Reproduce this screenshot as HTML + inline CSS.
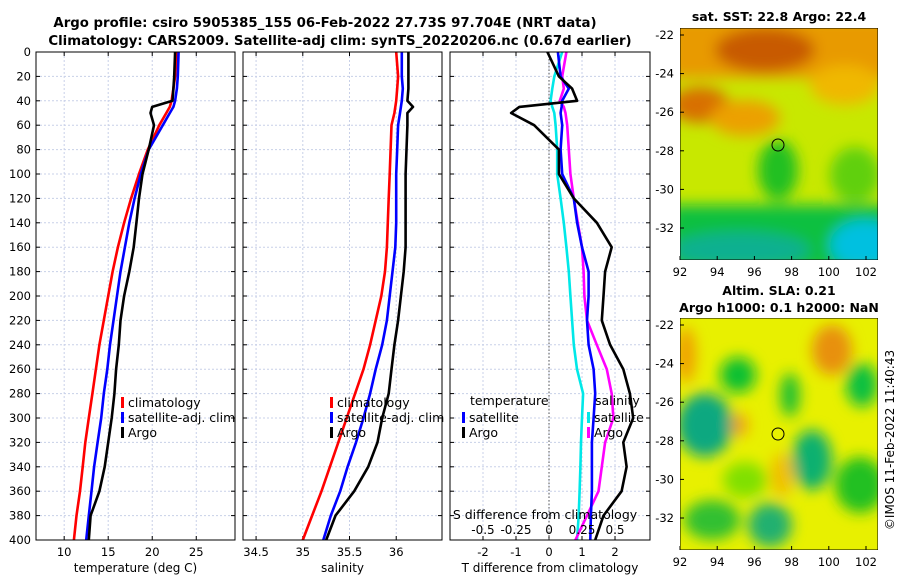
<!DOCTYPE html>
<html><head><meta charset="utf-8">
<style>
body{margin:0;background:#fff;width:900px;height:580px;overflow:hidden;font-family:"DejaVu Sans","Liberation Sans",sans-serif}
svg text{font-family:"DejaVu Sans","Liberation Sans",sans-serif}
</style></head><body>
<svg id="fig" width="900" height="580" xmlns="http://www.w3.org/2000/svg">
<defs>
<filter id="bl" x="-50%" y="-50%" width="200%" height="200%"><feGaussianBlur stdDeviation="7"/></filter>
<clipPath id="c1"><rect x="680" y="28" width="198" height="232"/></clipPath>
<clipPath id="c2"><rect x="680" y="318" width="198" height="232"/></clipPath>
</defs>
<text x="325" y="27" font-size="13.3" font-weight="bold" text-anchor="middle">Argo profile: csiro 5905385_155 06-Feb-2022 27.73S 97.704E (NRT data)</text>
<text x="340" y="45" font-size="13.3" font-weight="bold" text-anchor="middle">Climatology: CARS2009. Satellite-adj clim: synTS_20220206.nc (0.67d earlier)</text>
<g id="maps">
<g clip-path="url(#c1)">
<rect x="680" y="28" width="198" height="232" fill="#c8e800"/>
<g filter="url(#bl)">
<rect x="670" y="18" width="220" height="60" fill="#e89a00"/>
<ellipse cx="765" cy="50" rx="50" ry="22" fill="#c85a00"/>
<ellipse cx="700" cy="105" rx="30" ry="18" fill="#d87000"/>
<ellipse cx="745" cy="118" rx="35" ry="18" fill="#eca000"/>
<ellipse cx="845" cy="85" rx="35" ry="20" fill="#f0b800"/>
<ellipse cx="778" cy="170" rx="20" ry="30" fill="#20c020"/>
<ellipse cx="855" cy="175" rx="25" ry="28" fill="#60d010"/>
<rect x="670" y="205" width="220" height="65" fill="#10c040"/>
<ellipse cx="740" cy="250" rx="70" ry="18" fill="#10b090"/>
<ellipse cx="865" cy="245" rx="35" ry="25" fill="#00c0e0"/>
</g>
<rect x="680" y="28" width="198" height="232" fill="none" stroke="#000"/>
<circle cx="778" cy="145" r="6" fill="none" stroke="#000"/>
</g>
<g clip-path="url(#c2)">
<rect x="680" y="318" width="198" height="232" fill="#e8f000"/>
<g filter="url(#bl)">
<ellipse cx="832" cy="350" rx="20" ry="25" fill="#e89010"/>
<ellipse cx="686" cy="355" rx="10" ry="28" fill="#f0a000"/>
<ellipse cx="738" cy="375" rx="18" ry="18" fill="#10c030"/>
<ellipse cx="790" cy="395" rx="10" ry="22" fill="#20c030"/>
<ellipse cx="705" cy="425" rx="28" ry="32" fill="#10a880"/>
<ellipse cx="812" cy="460" rx="20" ry="30" fill="#10b070"/>
<ellipse cx="862" cy="385" rx="16" ry="22" fill="#10c040"/>
<ellipse cx="860" cy="485" rx="25" ry="28" fill="#20c020"/>
<ellipse cx="770" cy="525" rx="22" ry="22" fill="#20b070"/>
<ellipse cx="712" cy="520" rx="28" ry="20" fill="#30c030"/>
<ellipse cx="745" cy="480" rx="22" ry="18" fill="#80e000"/>
<ellipse cx="782" cy="475" rx="12" ry="22" fill="#f0c000"/>
<ellipse cx="740" cy="425" rx="8" ry="12" fill="#f0a010"/>
</g>
<rect x="680" y="318" width="198" height="232" fill="none" stroke="#000"/>
<circle cx="778" cy="434" r="6" fill="none" stroke="#000"/>
</g>
<text x="779" y="21" font-size="12.5" font-weight="bold" text-anchor="middle">sat. SST: 22.8 Argo: 22.4</text>
<text x="779" y="295" font-size="12.5" font-weight="bold" text-anchor="middle">Altim. SLA: 0.21</text>
<text x="779" y="312" font-size="12.5" font-weight="bold" text-anchor="middle">Argo h1000: 0.1 h2000: NaN</text>
<text transform="translate(894,440) rotate(-90)" font-size="12" text-anchor="middle">©IMOS 11-Feb-2022 11:40:43</text>
</g>
<g id="plots"></g>
</svg>
<script>
const depths=[0,20,30,40,45,50,60,80,100,120,140,160,180,200,220,240,260,280,300,320,340,360,380,400];
const tClim=[22.8,22.6,22.4,22.2,22.0,21.6,20.8,19.5,18.5,17.6,16.8,16.1,15.5,15.0,14.5,14.0,13.6,13.2,12.8,12.4,12.1,11.8,11.4,11.1];
const tSat=[23.0,22.9,22.8,22.6,22.4,22.0,21.2,19.6,18.7,18.0,17.4,16.9,16.4,16.0,15.6,15.2,14.9,14.5,14.2,13.8,13.4,13.1,12.8,12.5];
const tArgo=[22.6,22.5,22.4,22.3,20.0,19.8,20.2,19.6,18.9,18.5,18.2,17.9,17.4,16.8,16.4,16.2,15.9,15.7,15.4,15.0,14.6,14.0,13.0,12.8];
const sClim=[36.0,36.02,36.01,36.0,35.99,35.98,35.95,35.94,35.93,35.92,35.91,35.9,35.88,35.84,35.78,35.72,35.65,35.56,35.47,35.38,35.29,35.2,35.1,35.0];
const sSat=[36.06,36.06,36.07,36.06,36.05,36.04,36.02,36.01,36.0,36.0,36.0,35.99,35.96,35.93,35.9,35.85,35.78,35.72,35.65,35.57,35.48,35.4,35.3,35.22];
const sArgo=[36.13,36.13,36.13,36.12,36.18,36.12,36.12,36.11,36.1,36.1,36.1,36.1,36.08,36.05,36.02,35.98,35.95,35.92,35.85,35.8,35.7,35.55,35.35,35.25];
const dTSat=[0.27,0.35,0.6,0.4,0.38,0.35,0.4,0.35,0.4,0.75,0.85,1.0,1.2,1.2,1.15,1.2,1.35,1.4,1.35,1.3,1.3,1.3,1.27,1.25];
const dTArgo=[-0.05,0.3,0.7,0.85,-0.9,-1.15,-0.45,0.3,0.3,0.75,1.45,1.9,1.7,1.65,1.6,1.85,2.25,2.45,2.55,2.25,2.35,2.2,1.65,1.4];
const dSSat=[0.1,0.04,0.025,0.012,0.025,0.04,0.05,0.062,0.062,0.088,0.112,0.132,0.15,0.162,0.175,0.188,0.212,0.258,0.25,0.242,0.238,0.232,0.225,0.212];
const dSArgo=[0.132,0.1,0.112,0.082,0.112,0.125,0.138,0.15,0.162,0.188,0.218,0.25,0.262,0.268,0.288,0.362,0.438,0.475,0.488,0.425,0.4,0.375,0.288,0.2];
const depthTicks=[0,20,40,60,80,100,120,140,160,180,200,220,240,260,280,300,320,340,360,380,400];
const tTicks=[10,15,20,25];
const sTicks=[34.5,35,35.5,36];
const dtTicks=[-2,-1,0,1,2];
const dsTicks=[-0.5,-0.25,0,0.25,0.5];
const dsTickLabels=["-0.5","-0.25","0","0.25","0.5"];

const NS="http://www.w3.org/2000/svg";
const root=document.getElementById('plots');
function mk(tag,attrs,parent){const e=document.createElementNS(NS,tag);for(const k in attrs)e.setAttribute(k,attrs[k]);(parent||root).appendChild(e);return e;}
const Y0=52,Y1=540;
const yS=d=>Y0+(d/400)*(Y1-Y0);
const panels=[
 {x0:36,x1:235,min:6.8,max:29.4,ticks:tTicks,name:'temperature-panel',title:'temperature (deg C)'},
 {x0:243,x1:442,min:34.36,max:36.49,ticks:sTicks,name:'salinity-panel',title:'salinity'},
 {x0:450,x1:650,min:-3,max:3.06,ticks:dtTicks,name:'difference-panel',title:'T difference from climatology'}
];
panels.forEach((p,i)=>{
 p.xS=v=>p.x0+(v-p.min)/(p.max-p.min)*(p.x1-p.x0);
 const g=mk('g',{});
 
 
 p.g=g;
 depthTicks.forEach(d=>{
  mk('line',{x1:p.x0,x2:p.x1,y1:yS(d),y2:yS(d),stroke:'#c8d0e8','stroke-dasharray':'2,2','stroke-width':1},g);
  mk('line',{x1:p.x0,x2:p.x0+4,y1:yS(d),y2:yS(d),stroke:'#000'},g);
  mk('line',{x1:p.x1,x2:p.x1-4,y1:yS(d),y2:yS(d),stroke:'#000'},g);
  if(i===0){const t=mk('text',{x:p.x0-5,y:yS(d)+4,'font-size':11.5,'text-anchor':'end'},g);t.textContent=d;
   }
 });
 p.ticks.forEach(v=>{
  const x=p.xS(v);
  mk('line',{x1:x,x2:x,y1:Y0,y2:Y1,stroke:'#c8d0e8','stroke-dasharray':'2,2'},g);
  mk('line',{x1:x,x2:x,y1:Y1,y2:Y1-4,stroke:'#000'},g);
  mk('line',{x1:x,x2:x,y1:Y0,y2:Y0+4,stroke:'#000'},g);
  const t=mk('text',{x:x,y:556,'font-size':11.5,'text-anchor':'middle'},g);t.textContent=v;
  
 });
 const at=mk('text',{x:(p.x0+p.x1)/2,y:572,'font-size':12,'text-anchor':'middle'},g);at.textContent=p.title;
 
});
const P3=panels[2];
mk('line',{x1:P3.xS(0),x2:P3.xS(0),y1:Y0,y2:Y1,stroke:'#555','stroke-dasharray':'1.5,2'},P3.g);
function line(p,vals,color,name,scale){
 const pts=vals.map((v,j)=>p.xS(v*(scale||1)).toFixed(1)+','+yS(depths[j]).toFixed(1)).join(' ');
 const e=mk('polyline',{points:pts,fill:'none',stroke:color,'stroke-width':2.6,'stroke-linejoin':'round'},p.g);
 
 
}
line(panels[0],tClim,'#ff0000','temperature-climatology-line');
line(panels[0],tSat,'#0000ff','temperature-satellite-line');
line(panels[0],tArgo,'#000','temperature-argo-line');
line(panels[1],sClim,'#ff0000','salinity-climatology-line');
line(panels[1],sSat,'#0000ff','salinity-satellite-line');
line(panels[1],sArgo,'#000','salinity-argo-line');
line(P3,dSSat,'#00e8e8','salinity-diff-satellite-line',4);
line(P3,dSArgo,'#ff00ff','salinity-diff-argo-line',4);
line(P3,dTSat,'#0000ff','temperature-diff-satellite-line');
line(P3,dTArgo,'#000','temperature-diff-argo-line');
panels.forEach(p=>{mk('rect',{x:p.x0,y:Y0,width:p.x1-p.x0,height:Y1-Y0,fill:'none',stroke:'#000'},p.g);});
dsTicks.forEach((v,k)=>{
 const t=mk('text',{x:P3.xS(v*4),y:534,'font-size':12,'text-anchor':'middle'},P3.g);t.textContent=dsTickLabels[k];
 
});
const st=mk('text',{x:545,y:519,'font-size':12.5,'text-anchor':'middle'},P3.g);st.textContent='S difference from climatology';

function leg(x,y,color,label,name){
 const g=mk('g',{});
 
 
 if(color)mk('rect',{x:x,y:y-10,width:3,height:11,fill:color},g);
 const t=mk('text',{x:x+7,y:y,'font-size':12.5},g);t.textContent=label;
}
leg(121,407,'#ff0000','climatology','legend-climatology-t');
leg(121,422,'#0000ff','satellite-adj. clim','legend-satellite-t');
leg(121,437,'#000','Argo','legend-argo-t');
leg(330,407,'#ff0000','climatology','legend-climatology-s');
leg(330,422,'#0000ff','satellite-adj. clim','legend-satellite-s');
leg(330,437,'#000','Argo','legend-argo-s');
leg(463,405,null,'temperature','legend-temperature-header');
leg(462,422,'#0000ff','satellite','legend-satellite-dt');
leg(462,437,'#000','Argo','legend-argo-dt');
leg(588,405,null,'salinity','legend-salinity-header');
leg(587,422,'#00e8e8','satellite','legend-satellite-ds');
leg(587,437,'#ff00ff','Argo','legend-argo-ds');
function mapAxes(top,bot,name){
 const g=mk('g',{});
 
 
 [92,94,96,98,100,102].forEach(v=>{const x=680+(v-92)*18.6;
  mk('line',{x1:x,x2:x,y1:bot,y2:bot-4,stroke:'#000'},g);
  const t=mk('text',{x:x,y:bot+16,'font-size':11.5,'text-anchor':'middle'},g);t.textContent=v;});
 [-22,-24,-26,-28,-30,-32].forEach(v=>{const y=top+7+(-22-v)*19.3;
  mk('line',{x1:680,x2:684,y1:y,y2:y,stroke:'#000'},g);
  const t=mk('text',{x:674,y:y+4,'font-size':11.5,'text-anchor':'end'},g);t.textContent=v;});
}
mapAxes(28,260,'sst-map-axes');
mapAxes(318,550,'sla-map-axes');
</script>
</body></html>
